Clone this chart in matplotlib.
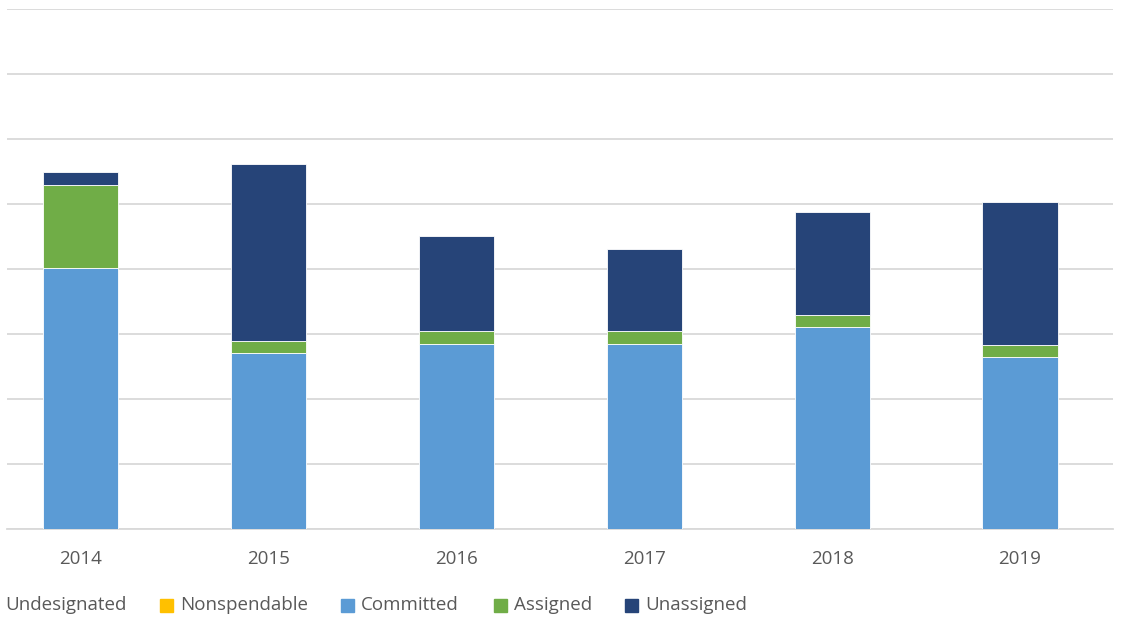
import numpy as np
import matplotlib
matplotlib.use("Agg")
import matplotlib.pyplot as plt
from matplotlib.patches import Rectangle

years = ["2014", "2015", "2016", "2017", "2018", "2019"]
series = ["Undesignated", "Nonspendable", "Committed", "Assigned", "Unassigned"]
undesignated = [0, 0, 0, 0, 0, 0]
nonspendable = [0, 0, 0, 0, 0, 0]
committed = [4.02, 2.71, 2.85, 2.85, 3.11, 2.65]
assigned = [1.27, 0.18, 0.20, 0.20, 0.18, 0.18]
unassigned = [0.20, 2.73, 1.46, 1.26, 1.59, 2.20]
colors = ["#A5A5A5", "#FFC000", "#5B9BD5", "#70AD47", "#264478"]

plt.rcParams["font.family"] = ["Open Sans", "DejaVu Sans"]

W, H = 1130, 637
fig = plt.figure(figsize=(W / 100, H / 100), dpi=100)
ax = fig.add_axes([7 / W, (H - 529) / H, (1113 - 7) / W, (529 - 9) / H])

x = np.arange(len(years))
bottom = np.zeros(len(years))
for name, vals, c in zip(series, [undesignated, nonspendable, committed, assigned, unassigned], colors):
    ax.bar(x, vals, width=0.4, bottom=bottom, color=c, edgecolor="white", linewidth=0.6, zorder=3)
    bottom += np.array(vals)

ax.set_ylim(0, 8)
ax.set_xlim(-0.391, 5.495)
ax.set_yticks(np.arange(0, 9, 1))
ax.set_yticklabels([])
ax.tick_params(axis="y", length=0)
ax.grid(axis="y", color="#D9D9D9", linewidth=1.3, zorder=0)
ax.set_xticks(x)
ax.set_xticklabels(years, color="#595959", fontsize=13.5)
ax.tick_params(axis="x", length=0, pad=15)
for s in ["left", "right", "top"]:
    ax.spines[s].set_visible(False)
ax.spines["bottom"].set_color("#D9D9D9")
ax.spines["bottom"].set_linewidth(1.3)

# legend drawn by hand, first marker falls off the left edge
text_x = [5, 180, 361, 514, 645]
ly = 605
for name, c, tx in zip(series, colors, text_x):
    fig.patches.append(Rectangle(((tx - 20) / W, (H - ly - 6.5) / H), 13 / W, 13 / H,
                                 transform=fig.transFigure, color=c))
    fig.text(tx / W, (H - ly) / H, name, color="#595959", fontsize=13.5, va="center", ha="left")

fig.savefig("out.png", dpi=100)
